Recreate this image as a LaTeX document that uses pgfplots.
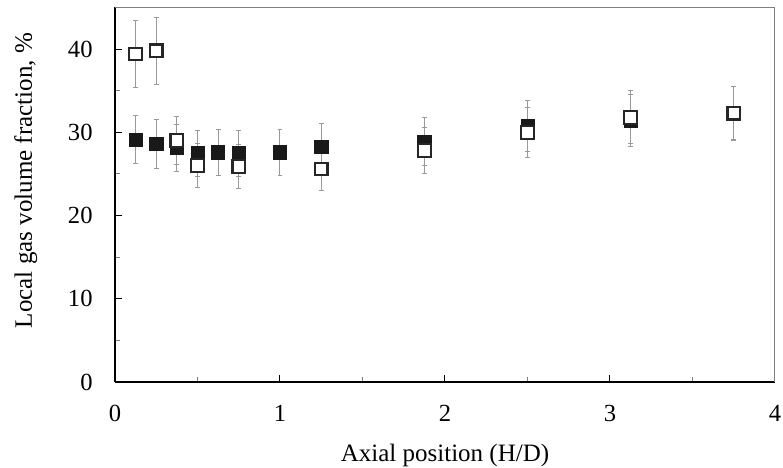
\documentclass[border=0pt]{standalone}
\usepackage{pgfplots}
\pgfplotsset{compat=1.18}
\usepackage{pgfplotstable}
\usepackage{fontspec}
\setmainfont{Liberation Serif}
\pgfplotstableread{
x y e
0.125 29.1 2.9
0.25 28.6 2.9
0.375 28.1 2.8
0.5 27.5 2.75
0.625 27.6 2.75
0.75 27.5 2.75
1.0 27.6 2.75
1.25 28.3 2.8
1.875 28.9 2.85
2.5 30.8 3.05
3.125 31.4 3.1
3.75 32.3 3.2
}\filled
\pgfplotstableread{
x y e
0.125 39.4 4.0
0.25 39.8 4.0
0.375 29.0 2.9
0.5 26.0 2.6
0.75 25.9 2.6
1.25 25.6 2.6
1.875 27.8 2.8
2.5 30.0 3.0
3.125 31.8 3.2
3.75 32.3 3.25
}\open
\begin{document}
\begin{tikzpicture}
\begin{axis}[
  scale only axis, width=330pt, height=187.25pt,
  xmin=0, xmax=4, ymin=0, ymax=45,
  axis lines*=left,
  axis line style={black, line width=0.6pt},
  xtick={0,1,2,3,4}, minor xtick={0.5,1.5,2.5,3.5},
  ytick={0,10,20,30,40}, minor ytick={5,15,25,35},
  tick align=inside,
  major tick length=3.5pt, minor tick length=2.5pt,
  tick style={black, line width=0.5pt},
  minor tick style={gray, line width=0.5pt},
  /pgf/number format/assume math mode=true,
  tick label style={font=\fontsize{12.3}{14}\selectfont, inner sep=0pt},
  yticklabel style={xshift=-11pt},
  xticklabel style={yshift=-11.5pt},
  label style={font=\fontsize{12.5}{15}\selectfont, inner sep=0pt},
  xlabel={Axial position (H/D)},
  xlabel style={at={(axis description cs:0.5,-0.2136)}, anchor=base},
  ylabel={Local gas volume fraction, \%},
  ylabel style={at={(axis description cs:-0.1258,0.538)}, anchor=base, rotate=0},
  clip=false,
]
\addplot[only marks, mark=square*, mark size=3.3pt, mark options={fill=black!90, draw=black!90, line width=0.3pt},
  error bars/.cd, y dir=both, y explicit,
  error bar style={gray!80, line width=0.5pt},
  error mark options={rotate=90, mark size=1.2pt, gray!80, line width=0.5pt}]
  table[x=x, y=y, y error=e] {\filled};
\addplot[only marks, mark=square*, mark size=3.15pt, mark options={fill=white, draw=black!85, line width=1.1pt},
  error bars/.cd, y dir=both, y explicit,
  error bar style={gray!80, line width=0.5pt},
  error mark options={rotate=90, mark size=1.2pt, gray!80, line width=0.5pt}]
  table[x=x, y=y, y error=e] {\open};
\draw[gray, line width=0.5pt] (rel axis cs:0,1) -- (rel axis cs:1,1) -- (rel axis cs:1,0);
\end{axis}
\pgfresetboundingbox
\path[use as bounding box] ([shift={(-57.5pt,-43pt)}]current axis.south west) rectangle ([shift={(4pt,3.75pt)}]current axis.north east);
\end{tikzpicture}
\end{document}
